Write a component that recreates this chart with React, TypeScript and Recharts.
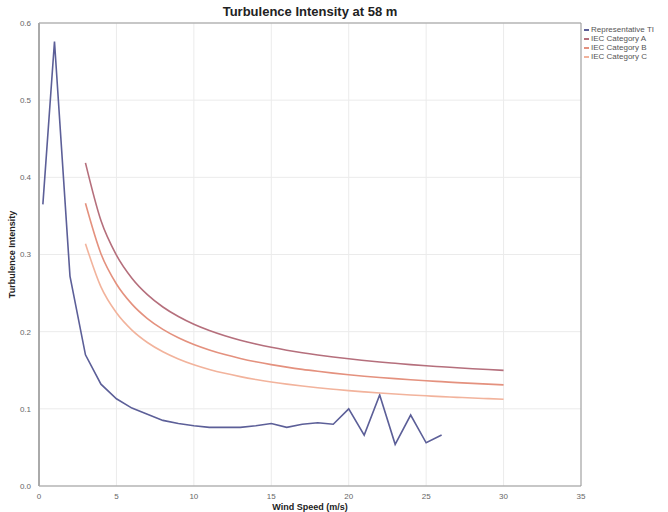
import { LineChart, Line, XAxis, YAxis, CartesianGrid, ReferenceLine } from "recharts";

const tiSpeeds = [0.25, 1, 2, 3, 4, 5, 6, 7, 8, 9, 10, 11, 12, 13, 14, 15, 16, 17, 18, 19, 20, 21, 22, 23, 24, 25, 26];
const representativeTI = [0.365, 0.576, 0.272, 0.17, 0.132, 0.113, 0.101, 0.093, 0.085, 0.081, 0.078, 0.076, 0.076, 0.076, 0.078, 0.081, 0.076, 0.08, 0.082, 0.08, 0.1, 0.066, 0.118, 0.054, 0.092, 0.056, 0.066];

const iecSpeeds = [3, 4, 5, 6, 7, 8, 9, 10, 11, 12, 13, 14, 15, 16, 17, 18, 19, 20, 21, 22, 23, 24, 25, 26, 27, 28, 29, 30];
const iecA = [0.4187, 0.344, 0.2992, 0.2693, 0.248, 0.232, 0.2196, 0.2096, 0.2015, 0.1947, 0.1889, 0.184, 0.1797, 0.176, 0.1727, 0.1698, 0.1672, 0.1648, 0.1627, 0.1607, 0.159, 0.1573, 0.1558, 0.1545, 0.1532, 0.152, 0.1509, 0.1499];
const iecB = [0.3663, 0.301, 0.2618, 0.2357, 0.217, 0.203, 0.1921, 0.1834, 0.1763, 0.1703, 0.1653, 0.161, 0.1573, 0.154, 0.1511, 0.1486, 0.1463, 0.1442, 0.1423, 0.1406, 0.1391, 0.1377, 0.1364, 0.1352, 0.134, 0.133, 0.132, 0.1311];
const iecC = [0.314, 0.258, 0.2244, 0.202, 0.186, 0.174, 0.1647, 0.1572, 0.1511, 0.146, 0.1417, 0.138, 0.1348, 0.132, 0.1295, 0.1273, 0.1254, 0.1236, 0.122, 0.1205, 0.1192, 0.118, 0.1169, 0.1158, 0.1149, 0.114, 0.1132, 0.1124];

const xTicks = [0, 5, 10, 15, 20, 25, 30, 35];
const yTicks = [0, 0.1, 0.2, 0.3, 0.4, 0.5, 0.6];

const toPoints = (xs: number[], ys: number[]) => xs.map((x, i) => ({ x, y: ys[i] }));

const series = [
  { name: "Representative TI", color: "#5c5f98", curve: "linear", data: toPoints(tiSpeeds, representativeTI) },
  { name: "IEC Category A", color: "#b56f7c", curve: "monotone", data: toPoints(iecSpeeds, iecA) },
  { name: "IEC Category B", color: "#e4917e", curve: "monotone", data: toPoints(iecSpeeds, iecB) },
  { name: "IEC Category C", color: "#f2b39c", curve: "monotone", data: toPoints(iecSpeeds, iecC) },
];

const font = "'Liberation Sans', Arial, sans-serif";

export default function App() {
  return (
    <div style={{ position: "absolute", left: 0, top: 0, width: 668, height: 512, background: "#fff", fontFamily: font }}>
      <div style={{ position: "absolute", left: 0, width: 620, top: 4, textAlign: "center", fontSize: 13, fontWeight: "bold", color: "#222" }}>
        Turbulence Intensity at 58 m
      </div>
      <div style={{ position: "absolute", left: 584, top: 25, fontSize: 8, color: "#555", lineHeight: "9px" }}>
        {series.map((s) => (
          <div key={s.name} style={{ whiteSpace: "nowrap" }}>
            <span style={{ display: "inline-block", width: 5, height: 1.5, background: s.color, verticalAlign: "middle", marginRight: 2 }} />
            {s.name}
          </div>
        ))}
      </div>
      <LineChart width={668} height={512} margin={{ top: 23, right: 87, bottom: 0, left: 0 }}>
        <CartesianGrid stroke="#ebebeb" vertical horizontal />
        <XAxis
          type="number"
          dataKey="x"
          domain={[0, 35]}
          ticks={xTicks}
          height={26}
          tick={{ fontSize: 8, fill: "#666", fontFamily: font }}
          tickLine={false}
          axisLine={{ stroke: "#999" }}
          tickMargin={1}
          allowDuplicatedCategory={false}
          label={{ value: "Wind Speed (m/s)", position: "insideBottom", offset: 2, style: { fontSize: 9, fontWeight: "bold", fill: "#222", fontFamily: font } }}
        />
        <YAxis
          type="number"
          domain={[0, 0.6]}
          ticks={yTicks}
          width={39}
          tick={{ fontSize: 8, fill: "#666", fontFamily: font }}
          tickFormatter={(v: number) => v.toFixed(1)}
          tickLine={false}
          axisLine={{ stroke: "#aaa", strokeWidth: 2 }}
          tickMargin={2}
          label={{ value: "Turbulence Intensity", angle: -90, position: "insideLeft", offset: 12, style: { fontSize: 9, fontWeight: "bold", fill: "#222", fontFamily: font, textAnchor: "middle" } }}
        />
        <ReferenceLine y={0.6} stroke="#999" />
        <ReferenceLine x={35} stroke="#999" />
        {series.map((s) => (
          <Line
            key={s.name}
            data={s.data}
            dataKey="y"
            name={s.name}
            type={s.curve as "linear" | "monotone"}
            stroke={s.color}
            strokeWidth={1.6}
            dot={false}
            activeDot={false}
            isAnimationActive={false}
          />
        ))}
      </LineChart>
    </div>
  );
}
